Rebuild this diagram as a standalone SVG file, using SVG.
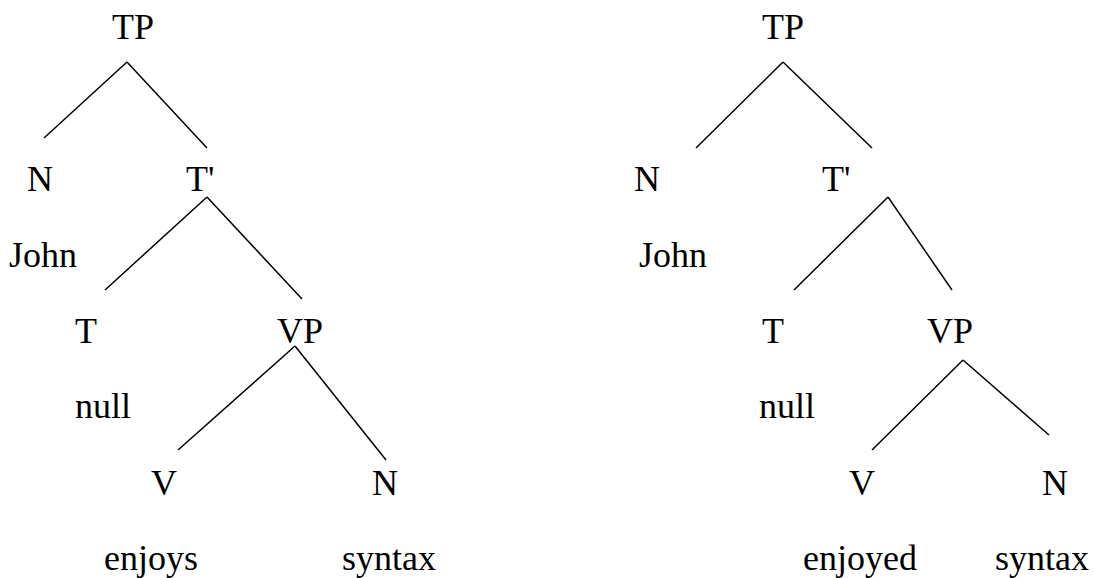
<svg xmlns="http://www.w3.org/2000/svg" width="1094" height="578" viewBox="0 0 1094 578">
<style>
text{font-family:"Liberation Serif","Times New Roman",serif;font-size:36px;fill:#000}
line{stroke:#000;stroke-width:1.5;fill:none}
</style>
<rect width="1094" height="578" fill="#fff"/>
<g id="connectors">
<line x1="127" y1="62" x2="44" y2="138"/>
<line x1="127" y1="62" x2="207" y2="148"/>
<line x1="207" y1="197" x2="105" y2="290"/>
<line x1="207" y1="197" x2="302" y2="299"/>
<line x1="295" y1="346" x2="178" y2="450"/>
<line x1="295" y1="346" x2="386" y2="460"/>
<line x1="783" y1="62" x2="696" y2="148"/>
<line x1="783" y1="62" x2="872" y2="148"/>
<line x1="888" y1="197" x2="794" y2="290"/>
<line x1="888" y1="197" x2="952" y2="290"/>
<line x1="963" y1="360" x2="872" y2="450"/>
<line x1="963" y1="360" x2="1049" y2="435"/>
</g>
<g id="tree1">
<g id="t1-tp"><text x="112" y="39">TP</text></g>
<g id="t1-n"><text x="27" y="191">N</text></g>
<g id="t1-tbar"><text x="186" y="191">T'</text></g>
<g id="t1-john"><text x="9" y="267">John</text></g>
<g id="t1-t"><text x="75" y="343">T</text></g>
<g id="t1-vp"><text x="277" y="343">VP</text></g>
<g id="t1-null"><text x="75" y="418">null</text></g>
<g id="t1-v"><text x="151" y="495">V</text></g>
<g id="t1-n2"><text x="372" y="495">N</text></g>
<g id="t1-enjoys"><text x="104" y="570">enjoys</text></g>
<g id="t1-syntax"><text x="342" y="570">syntax</text></g>
</g>
<g id="tree2">
<g id="t2-tp"><text x="762" y="39">TP</text></g>
<g id="t2-n"><text x="634" y="191">N</text></g>
<g id="t2-tbar"><text x="822" y="191">T'</text></g>
<g id="t2-john"><text x="639" y="267">John</text></g>
<g id="t2-t"><text x="762" y="343">T</text></g>
<g id="t2-vp"><text x="927" y="343">VP</text></g>
<g id="t2-null"><text x="759" y="418">null</text></g>
<g id="t2-v"><text x="849" y="495">V</text></g>
<g id="t2-n2"><text x="1042" y="495">N</text></g>
<g id="t2-enjoyed"><text x="803" y="570">enjoyed</text></g>
<g id="t2-syntax"><text x="995" y="570">syntax</text></g>
</g>
</svg>
